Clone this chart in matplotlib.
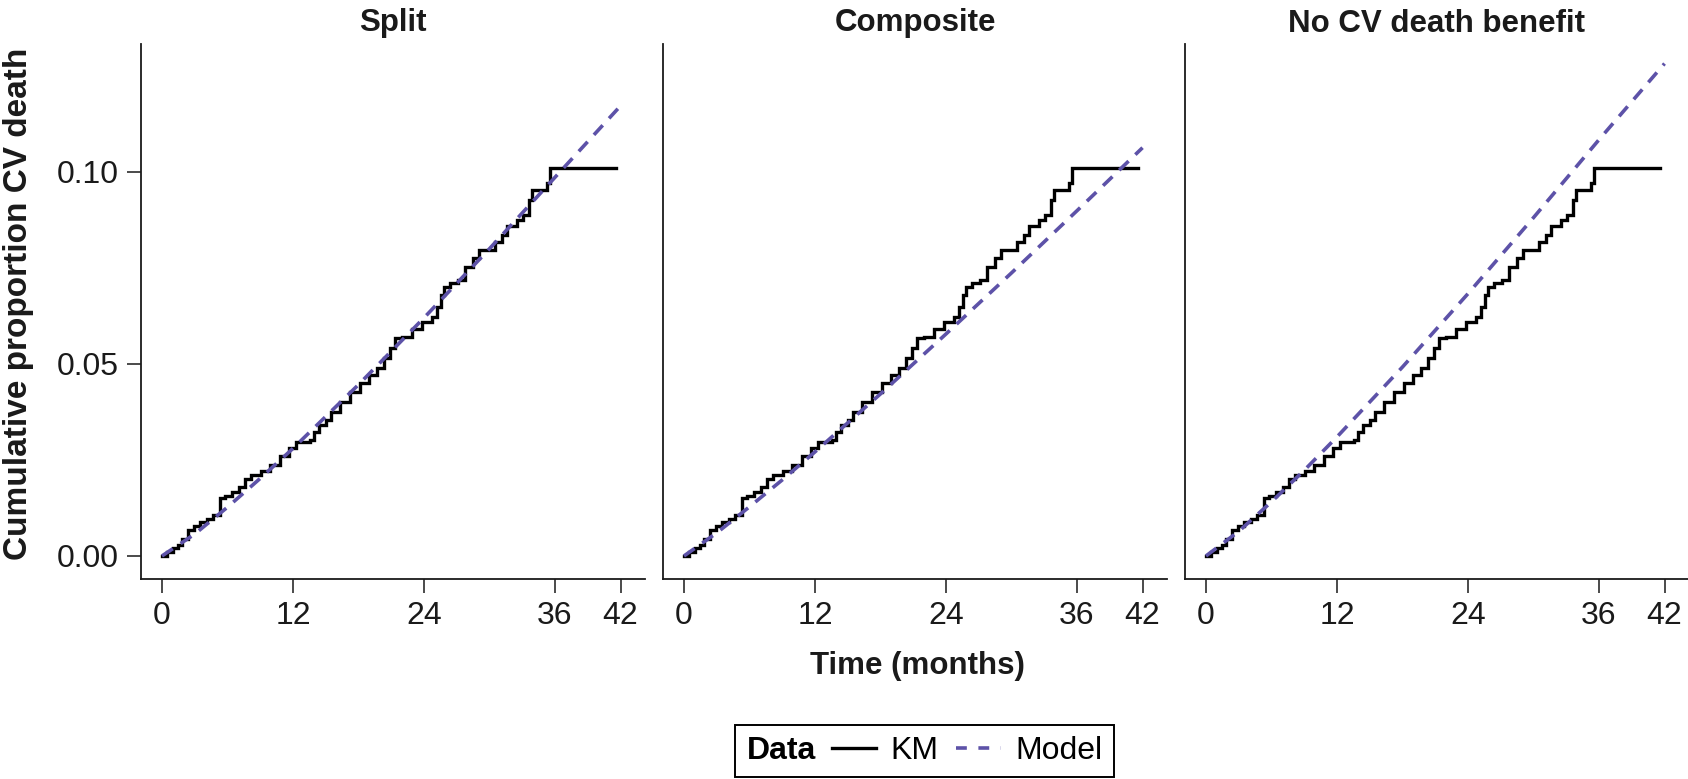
import matplotlib
matplotlib.use("Agg")
import matplotlib.pyplot as plt
from matplotlib.lines import Line2D
from matplotlib.offsetbox import HPacker

plt.rcParams['font.family'] = ['Liberation Sans', 'DejaVu Sans']

# ---------------- data ----------------
panel_titles = ["Split", "Composite", "No CV death benefit"]

km_time = [0, 0.5, 1.0, 1.5, 1.8, 2.4, 2.9, 3.5, 4.1, 4.7, 5.3, 5.8, 6.4, 7.1, 7.6,
           8.2, 9.1, 9.9, 10.8, 11.6, 12.3, 13.55, 13.9, 14.4, 15.0, 15.5, 16.3, 17.2,
           18.1, 19.0, 19.7, 20.3, 20.9, 21.3, 22.0, 22.9, 23.8, 24.7, 25.2, 25.6,
           25.8, 26.4, 27.1, 27.8, 28.5, 29.0, 30.5, 31.1, 31.6, 32.5, 33.1, 33.6,
           33.9, 35.3, 35.5, 41.6]
km_value = [0, 0.0011, 0.0020, 0.0029, 0.0045, 0.0068, 0.0078, 0.0089, 0.0096, 0.0107,
            0.0150, 0.0156, 0.0167, 0.0180, 0.0200, 0.0211, 0.0220, 0.0237, 0.0259,
            0.0280, 0.0298, 0.0302, 0.0324, 0.0340, 0.0355, 0.0376, 0.0402, 0.0428,
            0.0450, 0.0471, 0.0489, 0.0515, 0.0541, 0.0567, 0.0571, 0.0590, 0.0610,
            0.0623, 0.0649, 0.0680, 0.0701, 0.0710, 0.0719, 0.0753, 0.0775, 0.0797,
            0.0818, 0.0836, 0.0858, 0.0875, 0.0888, 0.0927, 0.0953, 0.0970, 0.1010,
            0.1010]

model_time = [0, 3, 6, 9, 12, 18, 24, 30, 36, 42]
model_split = [0, 0.0057, 0.0127, 0.0202, 0.0280, 0.0446, 0.0620, 0.0800, 0.0986, 0.1172]
model_composite = [0, 0.0060, 0.0128, 0.0198, 0.0271, 0.0422, 0.0578, 0.0737, 0.0899, 0.1063]
model_nocv = [0, 0.0064, 0.0141, 0.0223, 0.0310, 0.0492, 0.0683, 0.0881, 0.1084, 0.1282]
model_values = [model_split, model_composite, model_nocv]

x_ticks = [0, 12, 24, 36, 42]
y_ticks = [0.00, 0.05, 0.10]
y_tick_labels = ["0.00", "0.05", "0.10"]

# ---------------- figure ----------------
W, H = 1688, 779
fig = plt.figure(figsize=(W / 100, H / 100), dpi=100)

purple = '#5D52A8'
axis_col = '#1a1a1a'
lefts_px = [141, 663, 1185]
ax_w_px = 504
ax_top_px, ax_bot_px = 44, 579

for i, (title, mv) in enumerate(zip(panel_titles, model_values)):
    ax = fig.add_axes([lefts_px[i] / W, 1 - ax_bot_px / H, ax_w_px / W,
                       (ax_bot_px - ax_top_px) / H])
    ax.step(km_time, km_value, where='post', color='black', lw=2.4, zorder=3,
            solid_joinstyle='miter')
    ax.plot(model_time, mv, color=purple, lw=2.6, linestyle=(0, (3.6, 2.6)), zorder=4)
    ax.set_xlim(-1.92, 44.24)
    ax.set_ylim(-0.006, 0.1333)
    ax.set_xticks(x_ticks)
    ax.set_xticklabels([str(t) for t in x_ticks])
    ax.set_yticks(y_ticks)
    ax.set_yticklabels(y_tick_labels)
    for s in ['top', 'right']:
        ax.spines[s].set_visible(False)
    for s in ['left', 'bottom']:
        ax.spines[s].set_linewidth(1.3)
        ax.spines[s].set_color(axis_col)
    ax.tick_params(axis='both', direction='out', length=10, width=1.1,
                   color=axis_col, labelsize=23, labelcolor='#1a1a1a', pad=6)
    if i > 0:
        ax.tick_params(axis='y', labelleft=False, left=False)
    ax.set_title(title, fontsize=22.5, fontweight='bold', pad=9, color='#1a1a1a')

fig.text(19 / W, 1 - 304 / H, "Cumulative proportion CV death", rotation=90,
         ha='center', va='center', fontsize=24, fontweight='bold', color='#1a1a1a')
fig.text(917 / W, 1 - 666 / H, "Time (months)", ha='center', va='center',
         fontsize=22.5, fontweight='bold', color='#1a1a1a')

handles = [Line2D([], [], color='black', lw=2.4),
           Line2D([], [], color=purple, lw=2.6, linestyle=(0, (3.0, 3.2)))]
leg = fig.legend(handles, ["KM", "Model"], loc='center',
                 bbox_to_anchor=(924.5 / W, 1 - 751 / H), ncol=2, fontsize=23,
                 title="Data", title_fontproperties={'weight': 'bold', 'size': 23},
                 frameon=True, fancybox=False, framealpha=1, edgecolor='black',
                 handlelength=1.4, handletextpad=0.45, columnspacing=0.55,
                 borderpad=0.35, borderaxespad=0)
leg.get_frame().set_linewidth(1.4)
try:
    old = leg._legend_box
    newbox = HPacker(pad=old.pad, sep=0.5 * 23, align='center',
                     children=[leg._legend_title_box, leg._legend_handle_box])
    newbox.set_figure(fig)
    newbox.axes = None
    newbox.set_offset(leg._findoffset)
    leg._legend_box = newbox
except Exception:
    pass

fig.savefig("out.png", dpi=100)
